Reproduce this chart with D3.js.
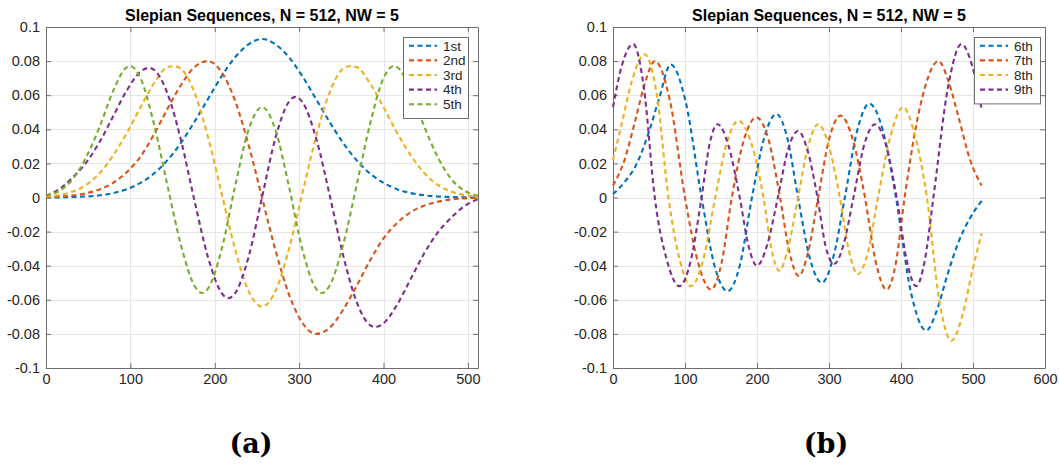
<!DOCTYPE html>
<html>
<head>
<meta charset="utf-8">
<script src="https://cdn.jsdelivr.net/npm/d3@7"></script>
<style>
  body { margin: 0; background: #fff; }
  svg text { font-family: "Liberation Sans", Arial, Helvetica, sans-serif; }
</style>
</head>
<body>
<div id="grafico"></div>
<script>
// ---- datos ----
const titulo = "Slepian Sequences, N = 512, NW = 5";
const ticksY = [-0.1, -0.08, -0.06, -0.04, -0.02, 0, 0.02, 0.04, 0.06, 0.08, 0.1];
const ticksXa = [0, 100, 200, 300, 400, 500];
const ticksXb = [0, 100, 200, 300, 400, 500, 600];
const nombresA = ["1st", "2nd", "3rd", "4th", "5th"];
const nombresB = ["6th", "7th", "8th", "9th"];
const etiquetas = ["(a)", "(b)"];
const colores = ["#0072BD", "#D95319", "#EDB120", "#7E2F8E", "#77AC30"];

// panel (a): secuencias 1 a 5, pares [n, valor]
const sec1 = [[0,0],[16,0.0001],[32,0.0003],[48,0.0006],[64,0.0013],[80,0.0026],[96,0.0049],[112,0.0086],[128,0.0141],[144,0.0219],[160,0.0321],[176,0.0444],[192,0.0578],[208,0.071],[224,0.0822],[240,0.0898],[256,0.093],[272,0.0898],[288,0.0822],[304,0.071],[320,0.0578],[336,0.0444],[352,0.0321],[368,0.0219],[384,0.0141],[400,0.0086],[416,0.0049],[432,0.0026],[448,0.0013],[464,0.0006],[480,0.0003],[496,0.0001],[512,0]];
const sec2 = [[0,0.0002],[16,0.0005],[32,0.0012],[48,0.0025],[64,0.0048],[80,0.0087],[96,0.015],[112,0.024],[128,0.037],[144,0.052],[160,0.066],[176,0.0765],[192,0.08],[208,0.0736],[224,0.0569],[240,0.031],[256,0],[272,-0.031],[288,-0.0569],[304,-0.0736],[320,-0.08],[336,-0.0765],[352,-0.066],[368,-0.052],[384,-0.037],[400,-0.024],[416,-0.015],[432,-0.0087],[448,-0.0048],[464,-0.0025],[480,-0.0012],[496,-0.0005],[512,-0.0002]];
const sec3 = [[0,0.0005],[16,0.0015],[32,0.0035],[48,0.0075],[64,0.0145],[80,0.025],[96,0.038],[112,0.053],[128,0.067],[144,0.0765],[152,0.077],[160,0.0755],[176,0.0615],[192,0.0355],[208,0.0028],[224,-0.0301],[240,-0.0548],[256,-0.064],[272,-0.0548],[288,-0.0301],[304,0.0028],[320,0.0355],[336,0.0615],[352,0.0755],[360,0.077],[368,0.0765],[384,0.067],[400,0.053],[416,0.038],[432,0.025],[448,0.0145],[464,0.0075],[480,0.0035],[496,0.0015],[512,0.0005]];
const sec4 = [[0,0.001],[16,0.005],[32,0.012],[48,0.0207],[64,0.033],[80,0.048],[96,0.063],[112,0.0738],[122,0.076],[128,0.0749],[144,0.061],[160,0.0336],[176,-0.0019],[192,-0.035],[208,-0.0559],[216,-0.059],[224,-0.0563],[240,-0.035],[256,0],[272,0.035],[288,0.0563],[296,0.059],[304,0.0559],[320,0.035],[336,0.0019],[352,-0.0336],[368,-0.061],[384,-0.0749],[390,-0.076],[400,-0.0738],[416,-0.063],[432,-0.048],[448,-0.033],[464,-0.0207],[480,-0.012],[496,-0.005],[512,-0.001]];
const sec5 = [[0,0.001],[16,0.004],[32,0.011],[48,0.024],[64,0.042],[80,0.063],[96,0.0765],[100,0.077],[112,0.07],[128,0.043],[144,0.0069],[160,-0.028],[176,-0.0518],[185,-0.056],[192,-0.0534],[208,-0.0308],[224,0.0063],[240,0.0396],[256,0.053],[272,0.0396],[288,0.0063],[304,-0.0308],[320,-0.0534],[327,-0.056],[336,-0.0518],[352,-0.028],[368,0.0069],[384,0.043],[400,0.07],[412,0.077],[416,0.0765],[432,0.063],[448,0.042],[464,0.024],[480,0.011],[496,0.004],[512,0.001]];

// panel (b): secuencias 6 a 9
const sec6 = [[0,0.002],[16,0.009],[32,0.019],[48,0.036],[64,0.058],[80,0.078],[101,0.056],[123,0],[141,-0.04],[159,-0.055],[176,-0.04],[193,0],[210,0.035],[227,0.049],[242,0.035],[257,0],[273,-0.035],[290,-0.05],[306,-0.035],[322,0],[339,0.039],[356,0.055],[375,0.039],[393,0],[414,-0.056],[435,-0.078],[450,-0.066],[464,-0.046],[480,-0.026],[496,-0.012],[512,-0.002]];
const sec7 = [[0,0.007],[16,0.022],[32,0.047],[45,0.068],[58,0.08],[79,0.057],[100,0],[118,-0.038],[136,-0.054],[151,-0.038],[165,0],[182,0.034],[199,0.047],[216,0.034],[232,0],[245,-0.032],[258,-0.046],[271,-0.032],[285,0],[300,0.034],[316,0.048],[333,0.034],[350,0],[365,-0.038],[380,-0.054],[393,-0.038],[405,0],[428,0.056],[452,0.08],[466,0.068],[480,0.047],[496,0.022],[512,0.007]];
const sec8 = [[0,0.022],[12,0.043],[26,0.068],[44,0.084],[61,0.06],[77,0],[93,-0.037],[108,-0.052],[125,-0.037],[142,0],[158,0.032],[174,0.045],[192,0.032],[209,0],[220,-0.03],[231,-0.043],[243,-0.03],[257,0],[271,0.03],[285,0.043],[300,0.03],[315,0],[328,-0.032],[340,-0.045],[354,-0.032],[368,0],[386,0.037],[403,0.053],[419,0.037],[436,0],[453,-0.06],[470,-0.084],[486,-0.068],[499,-0.043],[512,-0.021]];
const sec9 = [[0,0.053],[12,0.077],[28,0.09],[43,0.064],[58,0],[75,-0.037],[92,-0.052],[108,-0.037],[123,0],[134,0.031],[145,0.043],[160,0.031],[176,0],[188,-0.028],[200,-0.04],[214,-0.028],[229,0],[243,0.028],[257,0.039],[270,0.028],[284,0],[295,-0.028],[307,-0.039],[320,-0.028],[334,0],[349,0.031],[364,0.043],[379,0.031],[394,0],[408,-0.037],[421,-0.052],[433,-0.037],[445,0],[465,0.064],[484,0.09],[499,0.077],[512,0.052]];

const svg = d3.select("#grafico")
  .append("svg")
  .attr("width", 1059)
  .attr("height", 466);

// dibuja un panel completo
function graficarPanel(p) {
  const x = d3.scaleLinear().domain([0, p.xmax]).range([p.izq, p.der]);
  const y = d3.scaleLinear().domain([-0.1, 0.1]).range([368, 27]);
  const g = svg.append("g");

  // grilla
  g.selectAll(".gx").data(p.ticksX).join("line")
    .attr("x1", d => Math.round(x(d)) + 0.5).attr("x2", d => Math.round(x(d)) + 0.5)
    .attr("y1", 27).attr("y2", 368)
    .attr("stroke", "#e6e6e6");
  g.selectAll(".gy").data(ticksY).join("line")
    .attr("x1", p.izq).attr("x2", p.der)
    .attr("y1", d => Math.round(y(d)) + 0.5).attr("y2", d => Math.round(y(d)) + 0.5)
    .attr("stroke", "#e6e6e6");

  // ejes con ticks hacia adentro
  const fmt = d => d === 0 ? "0" : String(+d.toFixed(2));
  const ejes = [
    [d3.axisBottom(x).tickValues(p.ticksX).tickFormat(d3.format("d")), `translate(0,368)`],
    [d3.axisLeft(y).tickValues(ticksY).tickFormat(fmt), `translate(${p.izq},0)`],
    [d3.axisTop(x).tickValues(p.ticksX).tickFormat(""), `translate(0,27)`],
    [d3.axisRight(y).tickValues(ticksY).tickFormat(""), `translate(${p.der},0)`]
  ];
  ejes.forEach(function(e) {
    const a = g.append("g").attr("transform", e[1])
      .call(e[0].tickSizeInner(-5).tickSizeOuter(0).tickPadding(6));
    a.select(".domain").attr("stroke", "#6e6e6e");
    a.selectAll(".tick line").attr("stroke", "#6e6e6e");
    a.selectAll("text").attr("fill", "#262626")
      .style("font-size", "14.5px")
      .style("font-family", '"Liberation Sans", Arial, sans-serif');
  });

  // curvas
  const linea = d3.line()
    .x(d => x(d[0]))
    .y(d => y(d[1]))
    .curve(d3.curveMonotoneX);
  g.selectAll(".serie").data(p.series).join("path")
    .attr("d", d => linea(d))
    .attr("fill", "none")
    .attr("stroke", (_, i) => colores[i])
    .attr("stroke-width", 2.1)
    .attr("stroke-dasharray", "5,3.5");

  // titulo
  g.append("text")
    .attr("x", (p.izq + p.der) / 2).attr("y", 21)
    .attr("text-anchor", "middle")
    .attr("font-weight", "bold")
    .attr("font-size", 16)
    .attr("fill", "#000")
    .text(titulo);

  // leyenda
  const ley = g.append("g").attr("transform", `translate(${p.leyX},37)`);
  ley.append("rect")
    .attr("x", 0.5).attr("y", 0.5)
    .attr("width", p.leyW).attr("height", 8 + p.nombres.length * 14.6)
    .attr("fill", "#fff").attr("stroke", "#6e6e6e");
  p.nombres.forEach(function(n, i) {
    const yy = 8.8 + i * 14.6;
    ley.append("line")
      .attr("x1", 6).attr("x2", 34).attr("y1", yy).attr("y2", yy)
      .attr("stroke", colores[i]).attr("stroke-width", 2.1)
      .attr("stroke-dasharray", "5,3.5");
    ley.append("text")
      .attr("x", 40).attr("y", yy).attr("dy", "0.35em")
      .attr("font-size", 13.5).attr("fill", "#262626")
      .text(n);
  });

  // etiqueta (a)/(b)
  svg.append("text")
    .attr("x", p.etX).attr("y", 453)
    .attr("text-anchor", "middle")
    .style("font-family", '"DejaVu Serif", serif')
    .style("font-weight", "bold")
    .style("font-size", "27px")
    .attr("fill", "#000")
    .text(p.etiqueta);
}

graficarPanel({
  izq: 46, der: 478, xmax: 512, ticksX: ticksXa,
  series: [sec1, sec2, sec3, sec4, sec5], nombres: nombresA,
  leyX: 403, leyW: 65, etX: 251, etiqueta: etiquetas[0]
});

graficarPanel({
  izq: 613, der: 1045, xmax: 600, ticksX: ticksXb,
  series: [sec6, sec7, sec8, sec9], nombres: nombresB,
  leyX: 974, leyW: 66, etX: 826, etiqueta: etiquetas[1]
});
</script>
</body>
</html>
